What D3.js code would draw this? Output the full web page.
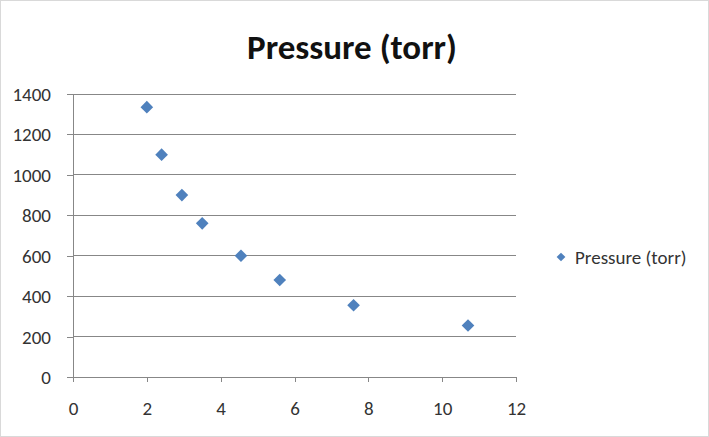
<!DOCTYPE html>
<html><head><meta charset="utf-8">
<script src="https://cdn.jsdelivr.net/npm/d3@7"></script>
<style>body{margin:0;background:#fff}svg{display:block}</style>
</head><body>
<svg id="c" width="709" height="437"></svg>
<script>
const volume = [2, 2.4, 2.95, 3.5, 4.55, 5.6, 7.6, 10.7];
const pressure = [1335, 1100, 900, 760, 600, 480, 355, 255];
const xTicks = [0, 2, 4, 6, 8, 10, 12];
const yTicks = [0, 200, 400, 600, 800, 1000, 1200, 1400];
const seriesName = "Pressure (torr)";
const title = "Pressure (torr)";

const svg = d3.select("#c");
const font = "Carlito, 'Open Sans', 'Liberation Sans', sans-serif";
svg.append("rect").attr("x",0.5).attr("y",0.5).attr("width",708).attr("height",436)
  .attr("fill","#fff").attr("stroke","#d9d9d9");

const x = d3.scaleLinear().domain([0,12]).range([73,516]);
const y = d3.scaleLinear().domain([0,1400]).range([377,94]);

// gridlines
svg.append("g").selectAll("line").data(yTicks.filter(d=>d>0)).join("line")
  .attr("x1",x(0)).attr("x2",x(12)).attr("y1",d=>y(d)).attr("y2",d=>y(d))
  .attr("stroke","#878787").attr("stroke-width",1).attr("shape-rendering","crispEdges");

const yAxis = svg.append("g").attr("transform",`translate(${x(0)},0)`)
  .call(d3.axisLeft(y).tickValues(yTicks).tickFormat(d3.format("d")).tickSize(6).tickPadding(16).tickSizeOuter(0));
const xAxis = svg.append("g").attr("transform",`translate(0,${y(0)})`)
  .call(d3.axisBottom(x).tickValues(xTicks).tickFormat(d3.format("d")).tickSize(5).tickPadding(0).tickSizeOuter(0));
[yAxis,xAxis].forEach(a=>{
  a.selectAll("path,line").attr("stroke","#878787").attr("shape-rendering","crispEdges");
  a.selectAll("text").attr("fill","#333").style("font-family",font).style("font-size","19px");
});
yAxis.selectAll("text").attr("dy","0.34em");
xAxis.selectAll("text").attr("dy",0).attr("y",38);
xAxis.select(".domain").attr("d",`M${x(0)},0H${x(12)}`);
yAxis.select(".domain").attr("d",`M0,${y(0)+5}V${y(1400)}`);

const sym = d3.symbol().type(d3.symbolSquare).size(80);
svg.append("g").selectAll("path").data(volume.map((v,i)=>[v,pressure[i]])).join("path")
  .attr("d",sym).attr("fill","#4F81BD")
  .attr("transform",d=>`translate(${x(d[0])},${y(d[1])}) rotate(45)`);

svg.append("text").attr("x",352).attr("y",59).attr("text-anchor","middle")
  .style("font-family",font).style("font-size","35px").style("font-weight","bold")
  .attr("fill","#111").text(title);

const lg = svg.append("g").attr("transform","translate(561,257)");
lg.append("path").attr("d",d3.symbol().type(d3.symbolSquare).size(38)).attr("transform","rotate(45)").attr("fill","#4F81BD");
lg.append("text").attr("x",14).attr("y",7).style("font-family",font).style("font-size","19px")
  .attr("fill","#333").text(seriesName);
</script>
</body></html>
